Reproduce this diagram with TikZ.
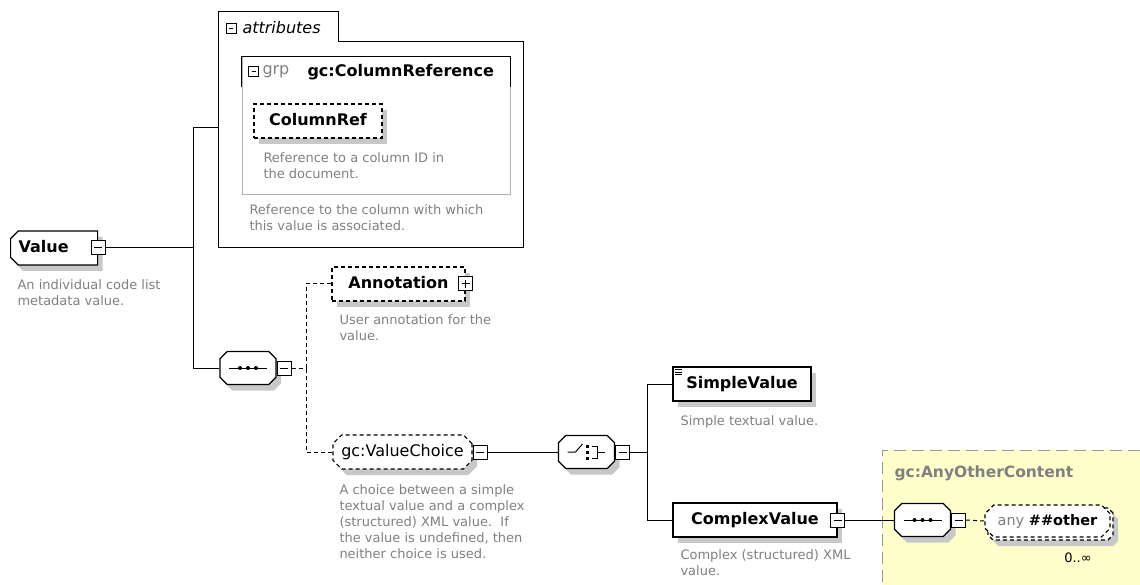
\documentclass[tikz,border=0pt]{standalone}
\usepackage{fontspec}
\setmainfont{DejaVu Sans}
\usetikzlibrary{shapes.misc,shadows,positioning}

\definecolor{descgray}{RGB}{128,128,128}
\definecolor{anybg}{RGB}{255,255,204}
\definecolor{shadowgray}{RGB}{200,200,200}

\begin{document}
\begin{tikzpicture}[x=1pt,y=-1pt,line width=1pt]
	\newcommand{\descsize}{\fontsize{13}{16}\selectfont}
	\newcommand{\labsize}{\fontsize{16}{19}\selectfont}

	% set the styles of the boxes
	\tikzset{
		boxshadow/.style={drop shadow={shadow xshift=5pt, shadow yshift=-6pt, fill=shadowgray, opacity=1, draw=none}},
		elembox/.style={draw, fill=white, line width=1.2pt, minimum height=34pt, inner sep=0pt,
			text height=11.5pt, text depth=3pt, font=\labsize\bfseries},
		elem/.style={elembox, boxshadow},
		optional/.style={elem, dash pattern=on 4pt off 3pt},
		notched/.style={chamfered rectangle, chamfered rectangle xsep=5pt},
		compositor/.style={elem, chamfered rectangle, chamfered rectangle xsep=9pt, minimum width=56pt, minimum height=33pt},
		minusbox/.style={draw, fill=white, minimum size=14pt, inner sep=0pt,
			path picture={\draw ([xshift=3pt]path picture bounding box.west) -- ([xshift=-3pt]path picture bounding box.east);}},
		plusbox/.style={minusbox,
			path picture={\draw ([xshift=3pt]path picture bounding box.west) -- ([xshift=-3pt]path picture bounding box.east);
				\draw ([yshift=3pt]path picture bounding box.south) -- ([yshift=-3pt]path picture bounding box.north);}},
		smallminus/.style={minusbox, minimum size=10pt, line width=0.8pt},
		txt/.style={inner sep=0pt},
		desc/.style={txt, anchor=north west, align=left, text=descgray, font=\descsize}
	}

	\useasboundingbox (0,0) rectangle (1140,585);

	% any other content area
	\fill[anybg] (882,450) rectangle (1150,600);
	\draw[gray!80, dash pattern=on 12pt off 6pt] (882,600) -- (882,450) -- (1150,450);
	\node[txt, anchor=west, text=descgray, font=\fontsize{15.5}{18}\selectfont\bfseries] (anyTitle) at (894,473) {gc:AnyOtherContent};

	% root element
	\node[elem, chamfered rectangle, chamfered rectangle corners={north west,south west}, chamfered rectangle xsep=4pt,
		anchor=west, inner xsep=4pt, text width=71pt, align=left] (value) at (10,248) {Value};
	\node[minusbox] (valueMinus) at (value.east) {};
	\node[desc] (valueDesc) at (17,279) {An individual code list\\metadata value.};

	% attributes
	\node[txt, minimum width=304pt, minimum height=205pt] (attrBody) at (371,144.5) {};
	\node[txt, minimum width=119pt, minimum height=30pt] (attrTab) at (278.5,27) {};
	\draw[line width=1.2pt] (attrBody.south west) |- (attrTab.north east) |- (attrBody.north east) |- (attrBody.south west) -- cycle;
	\node[smallminus] (attrMinus) at (231,28) {};
	\node[txt, anchor=west, font=\labsize\itshape] (attrLabel) at (242,28) {attributes};

	\node[draw=gray!60, minimum width=268pt, minimum height=138pt, inner sep=0pt] (grpBox) at (376,126) {};
	\draw[line width=1.2pt] ([yshift=-31pt]grpBox.north west) |- (grpBox.north east) -- ([yshift=-31pt]grpBox.north east);
	\node[smallminus] (grpMinus) at (253.5,71) {};
	\node[txt, anchor=west, text=descgray, font=\labsize] (grpKey) at (262,72) {grp};
	\node[txt, anchor=west, font=\labsize\bfseries] (grpName) at (307,72) {gc:ColumnReference};

	\node[optional, minimum width=128pt] (colRef) at (318,121) {ColumnRef};
	\node[desc] (colRefDesc) at (263,152) {Reference to a column ID in\\the document.};
	\node[desc] (attrDesc) at (249,204) {Reference to the column with which\\this value is associated.};

	% sequence
	\node[compositor] (seq) at (248,368) {};
	\node[minusbox, anchor=west] (seqMinus) at (seq.east) {};

	\node[optional, minimum width=133pt] (annot) at (398.5,284) {Annotation};
	\node[plusbox] (annotPlus) at (annot.east) {};
	\node[desc] (annotDesc) at (339,314) {User annotation for the\\value.};

	\node[optional, notched, minimum width=139pt, font=\labsize] (valChoice) at (402.5,452) {gc:ValueChoice};
	\node[minusbox, anchor=west] (valChoiceMinus) at (valChoice.east) {};
	\node[desc] (valChoiceDesc) at (339,484) {A choice between a simple\\textual value and a complex\\(structured) XML value.\ \ If\\the value is undefined, then\\neither choice is used.};

	% choice
	\node[compositor] (choice) at (586.5,452) {};
	\node[minusbox, anchor=west] (choiceMinus) at (choice.east) {};

	\node[elem, minimum width=138pt] (simpleVal) at (742,384) {SimpleValue};
	\node[desc] (simpleDesc) at (680,415) {Simple textual value.};

	\node[elem, minimum width=164pt] (complexVal) at (755,520) {ComplexValue};
	\node[minusbox] (complexMinus) at (complexVal.east) {};
	\node[desc] (complexDesc) at (680,549) {Complex (structured) XML\\value.};

	% any other content
	\node[compositor] (anySeq) at (922.5,520) {};
	\node[minusbox, anchor=west] (anySeqMinus) at (anySeq.east) {};
	\node[optional, notched, minimum width=125pt, minimum height=32pt] (anyBack) at (1050.5,524) {};
	\node[elembox, notched, dash pattern=on 4pt off 3pt, minimum width=125pt, minimum height=32pt,
		font=\fontsize{14.5}{17}\selectfont] (anyOther) at (1047.5,521) {\textcolor{descgray}{any} \textbf{\#\#other}};
	\node[txt, font=\descsize] (anyMult) at (1078,558) {0..∞};

	% symbols in the compositors
	\foreach \s in {seq,anySeq} {
		\draw[shift={(\s.center)}] (-19,0) -- (19,0);
		\foreach \d in {-8,0,8}
			\fill[shift={(\s.center)}] (\d,0) circle (2pt);
	}
	\draw[shift={(choice.center)}] (-19,0) -- (-11,0) -- (-4,-8);
	\foreach \d in {-6,0,6}
		\fill[shift={(choice.center)}] (-1,\d-1.5) rectangle (2,\d+1.5);
	\draw[shift={(choice.center)}] (5,-6) -- (11,-6) -- (11,6) -- (5,6) (11,0) -- (18,0);
	\foreach \l in {3,5.5,8}
		\draw[line width=0.8pt, shift={(simpleVal.north west)}] (3,\l) -- (10,\l);

	% connectors
	\coordinate (vj) at (193,248);
	\coordinate (vjTop) at (193,128);
	\coordinate (vjBot) at (193,368);
	\draw (valueMinus.east) -- (vj);
	\draw (vjTop) -- (vjBot);
	\draw (vjTop) -- (vjTop -| attrBody.west);
	\draw (vjBot) -- (seq.west);

	\coordinate (sj) at (306,368);
	\draw[dash pattern=on 4pt off 3pt] (seqMinus.east) -- (sj);
	\draw[dash pattern=on 4pt off 3pt] (annot.west) -| (sj);
	\draw[dash pattern=on 4pt off 3pt] (valChoice.west) -| (sj);
	\draw (valChoiceMinus.east) -- (choice.west);

	\coordinate (cj) at (647,452);
	\draw (choiceMinus.east) -- (cj);
	\draw (simpleVal.west) -| (cj);
	\draw (complexVal.west) -| (cj);
	\draw (complexMinus.east) -- (anySeq.west);
	\draw[dash pattern=on 4pt off 3pt] (anySeqMinus.east) -- (anyOther.west);

\end{tikzpicture}
\end{document}
